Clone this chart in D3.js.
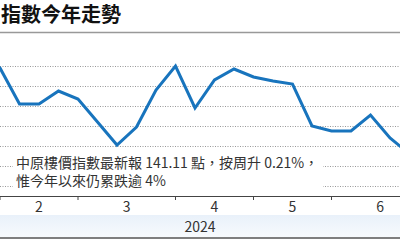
<!DOCTYPE html>
<html lang="zh-Hant">
<head>
<meta charset="UTF-8">
<script src="https://d3js.org/d3.v7.min.js"></script>
<style>
  html, body { margin: 0; padding: 0; background: #fff; }
  svg { display: block; font-family: "Noto Sans CJK TC", "Noto Sans", sans-serif; }
</style>
</head>
<body>
<svg id="chart" width="400" height="240"></svg>
<script>
// weekly index values, first one is the last week of January (off the left edge)
const weekValues = [146.3, 145.4, 143.6, 143.6, 144.25, 143.85, 142.7, 141.55, 142.45, 144.3,
  145.5, 143.4, 144.8, 145.35, 144.95, 144.75, 144.6, 142.5, 142.25, 142.25, 143.05, 141.9, 141.11];
const firstWeek = -1;
// week index where each month starts
const monthStarts = [0, 4, 9, 13, 17, 22];
const monthLabels = ["2", "3", "4", "5", "6"];
const gridValues = [139.5, 140.5, 141.5, 142.5, 143.5, 144.5, 145.5];
const yearLabel = "2024";
const title = "指數今年走勢";
const noteLines = ["中原樓價指數最新報 141.11 點，按周升 0.21%，", "惟今年以來仍累跌逾 4%"];

const width = 400, height = 240;
const svg = d3.select("#chart");

const x = d3.scaleLinear().domain([0, 1]).range([0, 19.5]);
const y = d3.scaleLinear().domain([139.5, 145.5]).range([186, 66]);

// title + rule
svg.append("text")
  .attr("x", 1).attr("y", 22)
  .attr("font-size", 20).attr("font-weight", 700).attr("fill", "#111")
  .text(title);
svg.append("line")
  .attr("x1", 0).attr("x2", width).attr("y1", 32.5).attr("y2", 32.5)
  .attr("stroke", "#999").attr("stroke-width", 1.5);

// dotted grid
svg.append("g").selectAll("line")
  .data(gridValues).join("line")
  .attr("x1", 0).attr("x2", width)
  .attr("y1", d => Math.round(y(d)) + 0.5).attr("y2", d => Math.round(y(d)) + 0.5)
  .attr("stroke", "#999").attr("stroke-dasharray", "1,1.5");

// the line
const data = weekValues.map((v, i) => ({ i: i + firstWeek, v }));
svg.append("path")
  .datum(data)
  .attr("fill", "none")
  .attr("stroke", "#1874bd")
  .attr("stroke-width", 3)
  .attr("stroke-linejoin", "miter")
  .attr("d", d3.line().x(d => x(d.i)).y(d => y(d.v)));

// note box
svg.append("rect")
  .attr("x", 13).attr("y", 149).attr("width", 310).attr("height", 43)
  .attr("fill", "#fff");
svg.append("g").selectAll("text")
  .data(noteLines).join("text")
  .attr("x", 16).attr("y", (d, i) => 168 + i * 18)
  .attr("font-size", 14).attr("fill", "#333")
  .text(d => d);

// x axis
const axisY = 196;
svg.append("line")
  .attr("x1", 0).attr("x2", width).attr("y1", axisY + 0.5).attr("y2", axisY + 0.5)
  .attr("stroke", "#444");
svg.append("g").selectAll("line")
  .data(monthStarts).join("line")
  .attr("x1", d => x(d)).attr("x2", d => x(d))
  .attr("y1", axisY).attr("y2", axisY + 4)
  .attr("stroke", "#444");
svg.append("g").selectAll("text")
  .data(monthLabels).join("text")
  .attr("x", (d, i) => (x(monthStarts[i]) + x(monthStarts[i + 1])) / 2)
  .attr("y", 212)
  .attr("text-anchor", "middle")
  .attr("font-size", 14).attr("fill", "#333")
  .text(d => d);

// year band
const grad = svg.append("defs").append("linearGradient")
  .attr("id", "band").attr("x1", 0).attr("x2", 0).attr("y1", 0).attr("y2", 1);
grad.append("stop").attr("offset", "0%").attr("stop-color", "#e9f1fa");
grad.append("stop").attr("offset", "100%").attr("stop-color", "#f7fafd");
svg.append("rect")
  .attr("x", 0).attr("y", 215).attr("width", width).attr("height", 22)
  .attr("fill", "url(#band)");
svg.append("text")
  .attr("x", width / 2).attr("y", 232)
  .attr("text-anchor", "middle")
  .attr("font-size", 14).attr("fill", "#333")
  .text(yearLabel);
svg.append("line")
  .attr("x1", 0).attr("x2", width).attr("y1", 238).attr("y2", 238)
  .attr("stroke", "#555").attr("stroke-width", 1.5);
</script>
</body>
</html>
